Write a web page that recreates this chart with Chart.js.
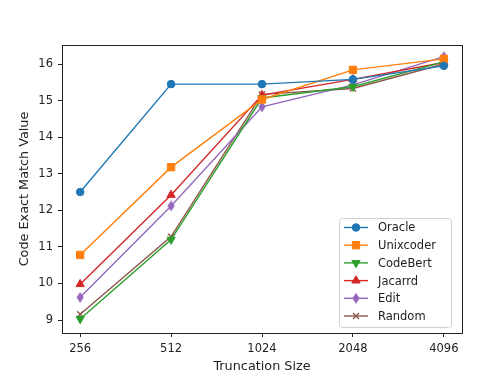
<!DOCTYPE html>
<html>
<head>
<meta charset="utf-8">
<script src="https://cdn.jsdelivr.net/npm/chart.js@4"></script>
<style>
  body { margin: 0; background: #fff; }
</style>
</head>
<body>
<canvas id="chart" width="498" height="374"></canvas>
<script>
// Data
const sizes = ['256', '512', '1024', '2048', '4096'];
const oracle = [12.5, 15.45, 15.45, 15.58, 15.95];
const unixcoder = [10.78, 13.18, 15.03, 15.84, 16.14];
const codebert = [9.03, 11.2, 15.07, 15.38, 16.06];
const jacarrd = [9.98, 12.42, 15.15, 15.58, 16.04];
const edit = [9.62, 12.12, 14.83, 15.43, 16.2];
const random = [9.16, 11.28, 15.17, 15.33, 16.0];
const yTicks = [9, 10, 11, 12, 13, 14, 15, 16];

const font = "'DejaVu Sans', sans-serif";
const fontSize = 11.5;
const labelSize = 12.8;

function toPoints(values) {
    return values.map((v, i) => ({ x: i, y: v }));
}

// matplotlib's thin diamond marker, as a small image
function thinDiamond(color) {
    const c = document.createElement('canvas');
    c.width = 8;
    c.height = 11;
    const g = c.getContext('2d');
    g.fillStyle = color;
    g.beginPath();
    g.moveTo(4, 0);
    g.lineTo(7.6, 5.5);
    g.lineTo(4, 11);
    g.lineTo(0.4, 5.5);
    g.closePath();
    g.fill();
    return c;
}

const radii = { circle: 3.8, rect: 5.2, triangle: 4.8, crossRot: 4.2 };

function series(label, values, color, style, rotation) {
    return {
        label: label,
        data: toPoints(values),
        borderColor: color,
        backgroundColor: color,
        borderWidth: 1.4,
        pointStyle: style,
        pointRotation: rotation || 0,
        pointRadius: radii[style] || 4.5,
        pointBorderWidth: style === 'crossRot' ? 1.4 : 1,
        tension: 0
    };
}

// Draw the frame on all four sides, like matplotlib
const framePlugin = {
    id: 'frame',
    afterDatasetsDraw(chart) {
        const a = chart.chartArea;
        const ctx = chart.ctx;
        ctx.save();
        ctx.strokeStyle = '#222';
        ctx.lineWidth = 1;
        ctx.strokeRect(a.left + 0.5, a.top + 0.5, a.right - a.left, a.bottom - a.top);
        ctx.restore();
    }
};

// Legend drawn inside the plot, lower right
const insideLegend = {
    id: 'insideLegend',
    afterDraw(chart) {
        const ctx = chart.ctx;
        const a = chart.chartArea;
        const sets = chart.data.datasets;
        const rowH = 17.7;
        const boxW = 112, boxH = 109;
        const x0 = a.right - 11 - boxW;
        const y0 = a.bottom - 6 - boxH;
        ctx.save();
        ctx.fillStyle = 'rgba(255,255,255,0.8)';
        ctx.strokeStyle = '#d0d0d0';
        ctx.lineWidth = 1;
        ctx.beginPath();
        ctx.roundRect(x0 + 0.5, y0 + 0.5, boxW, boxH, 3);
        ctx.fill();
        ctx.stroke();
        ctx.font = fontSize + 'px ' + font;
        ctx.textBaseline = 'middle';
        sets.forEach((ds, i) => {
            const cy = y0 + 9.5 + rowH * i;
            ctx.strokeStyle = ds.borderColor;
            ctx.lineWidth = 1.4;
            ctx.beginPath();
            ctx.moveTo(x0 + 5, cy);
            ctx.lineTo(x0 + 29, cy);
            ctx.stroke();
            ctx.fillStyle = ds.backgroundColor;
            ctx.lineWidth = ds.pointBorderWidth;
            Chart.helpers.drawPoint(ctx, {
                pointStyle: ds.pointStyle,
                rotation: ds.pointRotation,
                radius: ds.pointRadius,
                borderWidth: ds.pointBorderWidth
            }, x0 + 17, cy);
            ctx.fillStyle = '#222';
            ctx.fillText(ds.label, x0 + 39, cy + 1);
        });
        ctx.restore();
    }
};

new Chart(document.getElementById('chart'), {
    type: 'line',
    data: {
        datasets: [
            series('Oracle', oracle, '#1f77b4', 'circle'),
            series('Unixcoder', unixcoder, '#ff7f0e', 'rect'),
            series('CodeBert', codebert, '#2ca02c', 'triangle', 180),
            series('Jacarrd', jacarrd, '#d62728', 'triangle'),
            series('Edit', edit, '#9467bd', thinDiamond('#9467bd')),
            series('Random', random, '#8c564b', 'crossRot')
        ]
    },
    options: {
        responsive: false,
        animation: false,
        layout: { padding: { top: 45, right: 36, left: 0, bottom: 0 } },
        plugins: {
            legend: { display: false },
            tooltip: { enabled: false }
        },
        scales: {
            x: {
                type: 'linear',
                min: -0.2,
                max: 4.2,
                afterFit(scale) { scale.height = 41; },
                afterBuildTicks(scale) {
                    scale.ticks = sizes.map((s, i) => ({ value: i }));
                },
                ticks: {
                    color: '#222',
                    font: { family: font, size: fontSize },
                    padding: 5,
                    maxRotation: 0,
                    callback: (v) => sizes[v]
                },
                grid: { display: true, drawOnChartArea: false, drawTicks: true, tickLength: 4, color: '#222' },
                border: { display: false },
                title: {
                    display: true,
                    text: 'Truncation Size',
                    color: '#222',
                    font: { family: font, size: labelSize },
                    padding: { top: 0, bottom: 0 }
                }
            },
            y: {
                min: 8.645,
                max: 16.52,
                afterFit(scale) { scale.width = 62; },
                afterBuildTicks(scale) {
                    scale.ticks = yTicks.map(v => ({ value: v }));
                },
                ticks: {
                    color: '#222',
                    font: { family: font, size: fontSize },
                    padding: 5
                },
                grid: { display: true, drawOnChartArea: false, drawTicks: true, tickLength: 4, color: '#222' },
                border: { display: false },
                title: {
                    display: true,
                    text: 'Code Exact Match Value',
                    color: '#222',
                    font: { family: font, size: labelSize },
                    padding: { top: 17, bottom: 0 }
                }
            }
        }
    },
    plugins: [framePlugin, insideLegend]
});
</script>
</body>
</html>
